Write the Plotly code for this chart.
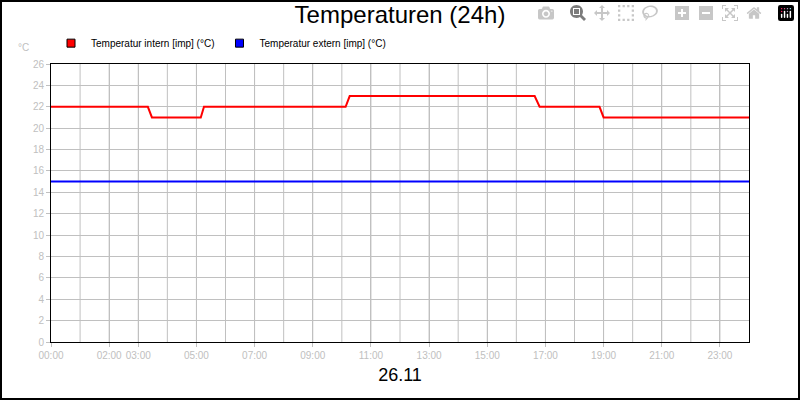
import plotly.graph_objects as go

# hours since 00:00 on 26.11
intern_x = [0, 3.33, 3.47, 5.15, 5.26, 10.13, 10.27, 16.63, 16.8, 18.86, 19.0, 24]
intern_y = [22, 22, 21, 21, 22, 22, 23, 23, 22, 22, 21, 21]
extern_x = [0, 24]
extern_y = [15, 15]
tick_hours = [0, 2, 3, 5, 7, 9, 11, 13, 15, 17, 19, 21, 23]
tick_text = ["%02d:00" % h for h in tick_hours]
names = ["Temperatur intern [imp] (°C)", "Temperatur extern [imp] (°C)"]
colors = ["#ff0000", "#0000ff"]

fig = go.Figure()
fig.add_trace(go.Scatter(x=intern_x, y=intern_y, mode="lines", showlegend=False,
                         line=dict(color=colors[0], width=2)))
fig.add_trace(go.Scatter(x=extern_x, y=extern_y, mode="lines", showlegend=False,
                         line=dict(color=colors[1], width=2)))
# square legend swatches
for n, c in zip(names, colors):
    fig.add_trace(go.Scatter(x=[None], y=[None], mode="markers", name=n,
                             marker=dict(symbol="square", size=8, color=c,
                                         line=dict(color="black", width=1))))

grey = "#c0c0c0"
fig.update_layout(
    width=800, height=400,
    margin=dict(l=51, r=51, t=64, b=58),
    paper_bgcolor="white", plot_bgcolor="white",
    font=dict(family="Liberation Sans, Arial", size=10, color="black"),
    title=dict(text="Temperaturen (24h)", x=0.5, y=0.985, yanchor="top",
               font=dict(size=24, color="black")),
    showlegend=True,
    legend=dict(orientation="h", x=0.0, y=1.075, xanchor="left", yanchor="middle",
                font=dict(size=10), bgcolor="rgba(0,0,0,0)", itemwidth=30),
    xaxis=dict(range=[0, 24], showgrid=True, gridcolor=grey,
               tickmode="array", tickvals=tick_hours, ticktext=tick_text,
               tickfont=dict(color=grey, size=10), ticks="outside", ticklen=4,
               tickcolor=grey, showline=True, linecolor="black", linewidth=1,
               mirror=True, zeroline=False,
               title=dict(text="26.11", font=dict(size=18, color="black"), standoff=8)),
    yaxis=dict(range=[0, 26], dtick=2, showgrid=True, gridcolor=grey,
               tickfont=dict(color=grey, size=10), ticks="outside", ticklen=4,
               tickcolor=grey, showline=True, linecolor="black", linewidth=1,
               mirror=True, zeroline=False),
)
# hourly vertical grid lines
for h in range(1, 24):
    fig.add_vline(x=h, line=dict(color=grey, width=1), layer="below")
fig.add_annotation(text="°C", xref="paper", yref="paper", x=-0.05, y=1.085,
                   showarrow=False, font=dict(color=grey, size=10))
fig.add_shape(type="rect", xref="paper", yref="paper",
              x0=-50/698, x1=1 + 50/698, y0=-57/278, y1=1 + 63/278,
              line=dict(color="black", width=2))

fig.write_html("out.html", post_script="document.body.style.margin='0';")
